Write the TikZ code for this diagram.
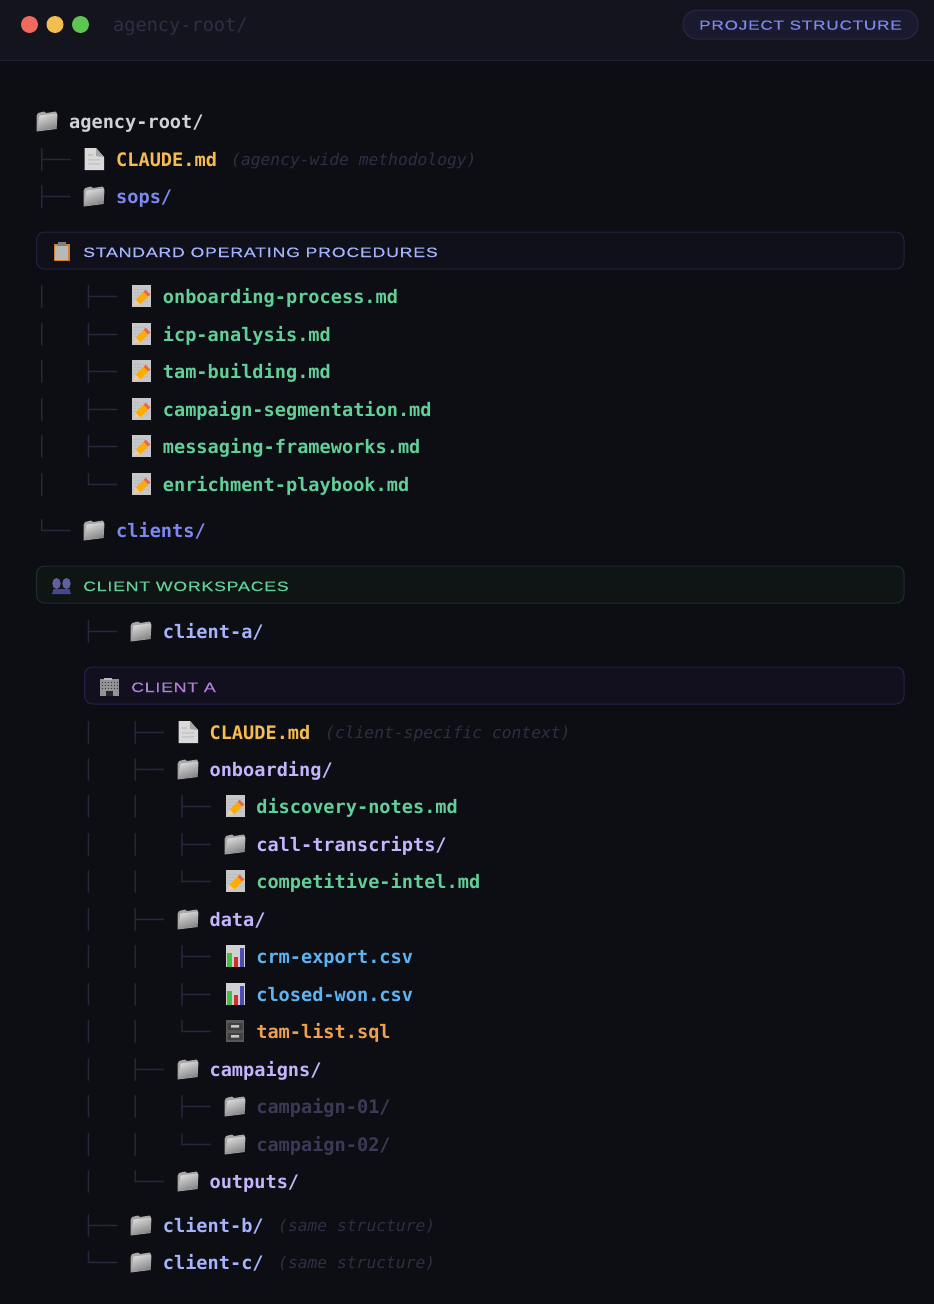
\documentclass[tikz,border=0pt]{standalone}
\usepackage{fontspec}
\setmonofont{DejaVu Sans Mono}
\newfontfamily\labelfont[FakeStretch=1.3,LetterSpace=6,FakeBold=0.4]{Liberation Sans}
\usetikzlibrary{arrows.meta}
\definecolor{pagebg}{HTML}{0D0D14}
\definecolor{barbg}{HTML}{14141F}
\definecolor{barline}{HTML}{1E1E32}
\definecolor{pillfill}{HTML}{1A1A2E}
\definecolor{pillline}{HTML}{27274A}
\definecolor{treeline}{HTML}{26263C}
\definecolor{dimtext}{HTML}{2E2E44}
\definecolor{rootcol}{HTML}{D2D2DA}
\definecolor{claudecol}{HTML}{F5BD4F}
\definecolor{sopscol}{HTML}{7D88EE}
\definecolor{mdcol}{HTML}{62CF98}
\definecolor{clientcol}{HTML}{A5B4FC}
\definecolor{subcol}{HTML}{C4B5FD}
\definecolor{csvcol}{HTML}{5EB3F0}
\definecolor{sqlcol}{HTML}{EFA04F}
\definecolor{campcol}{HTML}{3A3A56}
\definecolor{dotred}{HTML}{EE6A5E}
\definecolor{dotgreen}{HTML}{5FC552}
\definecolor{sopfill}{HTML}{10101B}
\definecolor{sopline}{HTML}{22223E}
\definecolor{wsfill}{HTML}{0F1414}
\definecolor{wsline}{HTML}{1F2E2A}
\definecolor{afill}{HTML}{12101E}
\definecolor{aline}{HTML}{272048}
\tikzset{
  rowtext/.style={anchor=base west,inner sep=0pt,font=\ttfamily\bfseries\fontsize{18.6}{20}\selectfont},
  treetext/.style={anchor=base west,inner sep=0pt,text=treeline,font=\ttfamily\fontsize{19}{20}\selectfont},
  notetext/.style={anchor=base west,inner sep=0pt,text=dimtext,font=\ttfamily\itshape\fontsize{16.3}{18}\selectfont},
  barlabel/.style={anchor=base west,inner sep=0pt,font=\labelfont\fontsize{13.6}{15}\selectfont},
  barbox/.style={rounded corners=8pt,line width=1pt,inner sep=0pt,outer sep=0pt},
}
% icons, #1 = x and #2 = y of the centre
\newcommand{\folderico}[2]{%
  \begin{scope}[shift={(#1,#2)}]
    \fill[gray!70] (-10.5,-5) -- (-9,-8) -- (-3,-9.5) -- (-1,-8) -- (9,-9.5) -- (10.5,-6) -- (9.5,8) -- (-10.5,10.5) -- cycle;
    \shade[left color=white!85!black,right color=black!50!white,shading angle=20] (-7.5,-5.5) -- (10,-7.5) -- (9,7.5) -- (-10,10) -- cycle;
  \end{scope}}
\newcommand{\docico}[2]{%
  \begin{scope}[shift={(#1,#2)}]
    \fill[white!85!black] (-9.5,-11) -- (2,-11) -- (10,-2) -- (10,11) -- (-9.5,11) -- cycle;
    \fill[gray!70] (2,-11) -- (10,-2) -- (2,-3) -- cycle;
    \fill[gray!45] (-6,-5) rectangle (-1,-3) (-6,0) rectangle (6,1.5) (-6,4) rectangle (6,5.5);
  \end{scope}}
\newcommand{\memoico}[2]{%
  \begin{scope}[shift={(#1,#2)}]
    \fill[white!78!black] (-9.5,-11) rectangle (9.5,10.5);
    \foreach \ly in {-7,-4,-1,2,5}
      \draw[gray!55,line width=.8pt,dash pattern=on 2pt off 1pt] (-7,\ly) -- (7,\ly);
    \draw[line width=6.5pt,orange!65!yellow] (-3,6) -- (5,-2);
    \draw[line width=6.5pt,red!50!brown!80!white] (5,-2) -- (7,-4);
    \fill[brown!40!white] (-8,10) -- (-5.8,3.4) -- (-1,8.2) -- cycle;
  \end{scope}}
\newcommand{\clipico}[2]{%
  \begin{scope}[shift={(#1,#2)}]
    \fill[brown!70!orange] (-8,-8) rectangle (8,9);
    \fill[white!72!black] (-6.5,-6.5) rectangle (6.5,7.5);
    \fill[gray] (-4,-10) rectangle (4,-6);
  \end{scope}}
\newcommand{\peopleico}[2]{%
  \begin{scope}[shift={(#1,#2)}]
    \fill[blue!25!gray] (-5,-2.5) ellipse (4.2pt and 5.5pt) (5,-2.5) ellipse (4.2pt and 5.5pt);
    \fill[blue!35!gray!85!black] (-9.5,8) -- (-8,3) -- (8,3) -- (9.5,8) -- cycle;
  \end{scope}}
\newcommand{\buildico}[2]{%
  \begin{scope}[shift={(#1,#2)}]
    \fill[gray!85] (-9.5,-8) rectangle (9.5,9);
    \fill[gray!55] (-6,-9.5) rectangle (2,-7);
    \foreach \ly in {-5,-2,1}
      \draw[gray!45!black,line width=.8pt,dash pattern=on 1.5pt off 1.5pt] (-8,\ly) -- (8,\ly);
    \fill[black!70!gray] (-3.5,4) rectangle (3.5,9);
  \end{scope}}
\newcommand{\chartico}[2]{%
  \begin{scope}[shift={(#1,#2)}]
    \fill[white!82!black] (-9.5,-11) rectangle (9.5,11);
    \fill[green!50!gray] (-8,-3.3) rectangle (-3,11);
    \fill[red!65!gray] (-1.3,.7) rectangle (2.7,11);
    \fill[blue!40!gray] (4.7,-8) rectangle (8.7,11);
  \end{scope}}
\newcommand{\cabico}[2]{%
  \begin{scope}[shift={(#1,#2)}]
    \fill[gray!70!black] (-9,-11) rectangle (9,11);
    \fill[gray!50!black] (-7.5,-8) rectangle (7.5,-.8) (-7.5,2) rectangle (7.5,9);
    \fill[gray!45] (-4,-6) rectangle (4,-3.5) (-4,4) rectangle (4,6.5);
  \end{scope}}
% #1 name, #2 y, #3 level, #4 tree text, #5 icon, #6 colour, #7 text
\newcommand{\filerow}[7]{%
  \node[treetext] (#1-tree) at ({36+46.7*#3},#2+7.5) {#4};
  #5{94+47*#3}{#2}
  \node[rowtext,text=#6] (#1) at ({116+46.7*#3},#2+7) {#7};
}
% #1 name, #2 y, #3 list of bar columns
\newcommand{\treebars}[3]{%
  \foreach \col in {#3}
    \node[treetext] (#1-bar\col) at ({36+46.7*\col},#2+7.5) {│};
}
% #1 name, #2 left, #3 y top, #4 icon, #5 fill, #6 border, #7 text colour, #8 text
\newcommand{\sectionbar}[8]{%
  \node[barbox,draw=#6,fill=#5,minimum width={903.5-#2},minimum height=37pt,anchor=north west] (#1) at (#2+.5,#3) {};
  #4{#2+25.5}{#3+20}
  \node[barlabel,text=#7] (#1-label) at (#2+47,#3+25) {#8};
}

\begin{document}
\begin{tikzpicture}[x=1pt,y=-1pt]
  \useasboundingbox (0,0) rectangle (934,1304);
  \fill[pagebg] (0,0) rectangle (934,1304);
  % title bar
  \fill[barbg] (0,0) rectangle (934,60.5);
  \draw[barline] (0,60.5) -- (934,60.5);
  \fill[dotred] (29.5,24.5) circle (8.5pt);
  \fill[claudecol] (55,24.5) circle (8.5pt);
  \fill[dotgreen] (80.5,24.5) circle (8.5pt);
  \node[rowtext,text=dimtext,font=\ttfamily\fontsize{18.6}{20}\selectfont] (title) at (113,31) {agency-root/};
  \node[draw=pillline,fill=pillfill,rounded corners=14pt,line width=1pt,minimum width=235pt,minimum height=29pt,inner sep=0pt] (pill) at (800.5,24.5) {};
  \node[barlabel,text=sopscol,font=\labelfont\fontsize{13.2}{16}\selectfont] (pill-label) at (699,29.7) {PROJECT STRUCTURE};
  % root
  \folderico{47}{121}
  \node[rowtext,text=rootcol] (root) at (69,128) {agency-root/};
  \filerow{agencymd}{159}{0}{├──}{\docico}{claudecol}{CLAUDE.md}
  \node[notetext] (agencymd-note) at (231,165.5) {(agency-wide methodology)};
  \filerow{sops}{196}{0}{├──}{\folderico}{sopscol}{sops/}
  \sectionbar{sopbar}{36}{232}{\clipico}{sopfill}{sopline}{clientcol}{STANDARD OPERATING PROCEDURES}
  % sops files
  \treebars{sopa}{296}{0}
  \filerow{onboardmd}{296}{1}{├──}{\memoico}{mdcol}{onboarding-process.md}
  \treebars{sopb}{334}{0}
  \filerow{icpmd}{334}{1}{├──}{\memoico}{mdcol}{icp-analysis.md}
  \treebars{sopc}{371}{0}
  \filerow{tammd}{371}{1}{├──}{\memoico}{mdcol}{tam-building.md}
  \treebars{sopd}{409}{0}
  \filerow{segmd}{409}{1}{├──}{\memoico}{mdcol}{campaign-segmentation.md}
  \treebars{sope}{446}{0}
  \filerow{msgmd}{446}{1}{├──}{\memoico}{mdcol}{messaging-frameworks.md}
  \treebars{sopf}{484}{0}
  \filerow{enrichmd}{484}{1}{└──}{\memoico}{mdcol}{enrichment-playbook.md}
  \filerow{clients}{530}{0}{└──}{\folderico}{sopscol}{clients/}
  \sectionbar{clientbar}{36}{566}{\peopleico}{wsfill}{wsline}{mdcol}{CLIENT WORKSPACES}
  \filerow{clienta}{631}{1}{├──}{\folderico}{clientcol}{client-a/}
  \sectionbar{abar}{84}{667}{\buildico}{afill}{aline}{subcol!70!violet}{CLIENT A}
  % client a
  \treebars{cla}{732}{1}
  \filerow{clientmd}{732}{2}{├──}{\docico}{claudecol}{CLAUDE.md}
  \node[notetext] (clientmd-note) at (325,738.5) {(client-specific context)};
  \treebars{clb}{769}{1}
  \filerow{onboarding}{769}{2}{├──}{\folderico}{subcol}{onboarding/}
  \treebars{clc}{806}{1,2}
  \filerow{discovery}{806}{3}{├──}{\memoico}{mdcol}{discovery-notes.md}
  \treebars{cld}{844}{1,2}
  \filerow{calls}{844}{3}{├──}{\folderico}{subcol}{call-transcripts/}
  \treebars{cle}{881}{1,2}
  \filerow{intel}{881}{3}{└──}{\memoico}{mdcol}{competitive-intel.md}
  \treebars{clf}{919}{1}
  \filerow{data}{919}{2}{├──}{\folderico}{subcol}{data/}
  \treebars{clg}{956}{1,2}
  \filerow{crm}{956}{3}{├──}{\chartico}{csvcol}{crm-export.csv}
  \treebars{clh}{994}{1,2}
  \filerow{won}{994}{3}{├──}{\chartico}{csvcol}{closed-won.csv}
  \treebars{cli}{1031}{1,2}
  \filerow{tamsql}{1031}{3}{└──}{\cabico}{sqlcol}{tam-list.sql}
  \treebars{clj}{1069}{1}
  \filerow{campaigns}{1069}{2}{├──}{\folderico}{subcol}{campaigns/}
  \treebars{clk}{1106}{1,2}
  \filerow{campa}{1106}{3}{├──}{\folderico}{campcol}{campaign-01/}
  \treebars{cll}{1144}{1,2}
  \filerow{campb}{1144}{3}{└──}{\folderico}{campcol}{campaign-02/}
  \treebars{clm}{1181}{1}
  \filerow{outputs}{1181}{2}{└──}{\folderico}{subcol}{outputs/}
  % other clients
  \filerow{clientb}{1225}{1}{├──}{\folderico}{clientcol}{client-b/}
  \node[notetext] (clientb-note) at (278,1231.5) {(same structure)};
  \filerow{clientc}{1262}{1}{└──}{\folderico}{clientcol}{client-c/}
  \node[notetext] (clientc-note) at (278,1268.5) {(same structure)};
\end{tikzpicture}
\end{document}
